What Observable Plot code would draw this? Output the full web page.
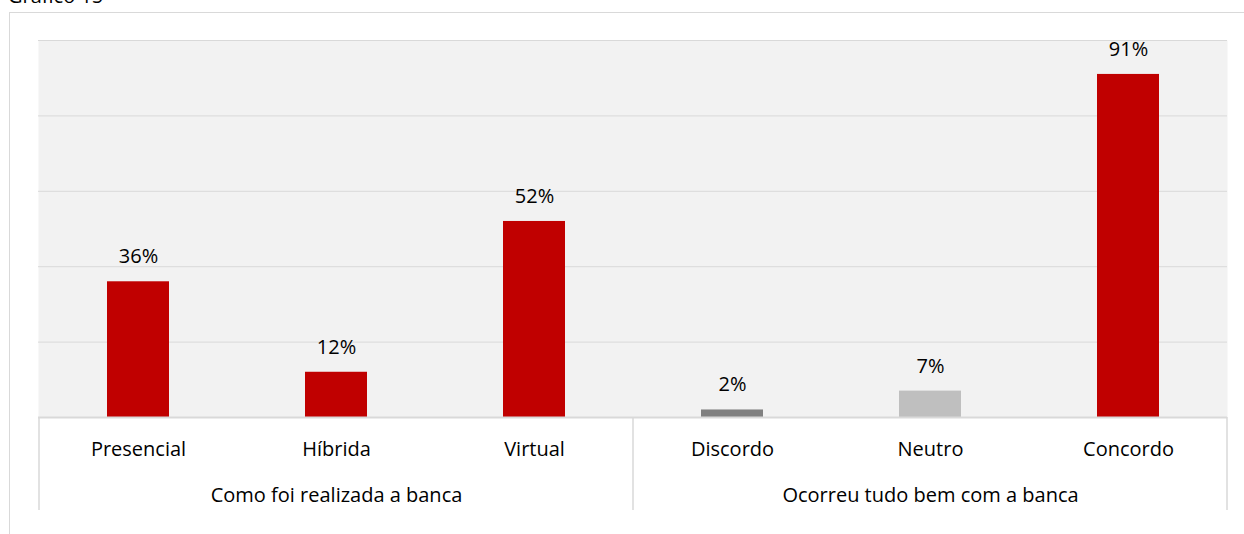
<!DOCTYPE html>
<html>
<head>
<meta charset="utf-8">
<script src="https://cdn.jsdelivr.net/npm/d3@7"></script>
<script src="https://cdn.jsdelivr.net/npm/@observablehq/plot@0.6"></script>
<style>
  html, body { margin: 0; padding: 0; background: #fff; }
  #wrap { position: relative; width: 1244px; height: 534px; overflow: hidden; font-family: "Open Sans", "Noto Sans", sans-serif; }
  #frame { position: absolute; left: 9px; top: 12px; width: 1300px; height: 600px; border: 1px solid #D9D9D9; box-sizing: border-box; }
  #title { position: absolute; left: 8px; top: -18px; font-size: 20px; color: #000; }
  #chart { position: absolute; left: 0; top: 0; }
</style>
</head>
<body>
<div id="wrap">
  <div id="frame"></div>
  <div id="title">Gráfico 15</div>
  <div id="chart"></div>
</div>
<script>
const categories = ["Presencial", "Híbrida", "Virtual", "Discordo", "Neutro", "Concordo"];
const values = [36, 12, 52, 2, 7, 91];
const groupNames = ["Como foi realizada a banca", "Ocorreu tudo bem com a banca"];
const groupMembers = [["Presencial", "Híbrida", "Virtual"], ["Discordo", "Neutro", "Concordo"]];
const barColors = ["#C00000", "#C00000", "#C00000", "#808080", "#BFBFBF", "#C00000"];
const yTicks = [0, 20, 40, 60, 80, 100];

const data = categories.map((c, i) => ({cat: c, value: values[i]}));
const groups = groupNames.map((g, i) => ({name: g, members: groupMembers[i], mid: groupMembers[i][Math.floor(groupMembers[i].length / 2)]}));

const separators = (index, scales, values, dims) => {
  const g = d3.create("svg:g");
  const x = scales.x;
  const half = x.step ? x.step() / 2 : (dims.width - dims.marginLeft - dims.marginRight) / categories.length / 2;
  const bw = x.bandwidth ? x.bandwidth() / 2 : 0;
  const xs = [];
  groups.forEach((gr, i) => {
    xs.push(x(gr.members[0]) + bw - half);
    if (i === groups.length - 1) xs.push(x(gr.members[gr.members.length - 1]) + bw + half);
  });
  const y0 = scales.y(0);
  xs.forEach(px => {
    g.append("line").attr("x1", px).attr("x2", px).attr("y1", y0).attr("y2", y0 + 93)
      .attr("stroke", "#D9D9D9").attr("stroke-width", 1.5);
  });
  return g.node();
};

const chart = Plot.plot({
  width: 1244,
  height: 534,
  marginLeft: 38,
  marginRight: 17,
  marginTop: 40,
  marginBottom: 117,
  style: {background: "transparent", fontFamily: "'Open Sans', 'Noto Sans', sans-serif", color: "#000"},
  x: {domain: categories, paddingInner: 0.687, paddingOuter: 0.3435, axis: null},
  y: {domain: [0, 100], axis: null},
  color: {domain: categories, range: barColors},
  marks: [
    Plot.frame({fill: "#F2F2F2", stroke: "none"}),
    Plot.ruleY(yTicks, {stroke: "#D9D9D9", strokeWidth: 1}),
    Plot.barY(data, {x: "cat", y: "value", fill: "cat"}),
    Plot.text(data, {x: "cat", y: "value", text: d => d.value + "%", dy: -25, fontSize: 20, fill: "#000"}),
    Plot.text(categories, {x: d => d, y: () => 0, text: d => d, dy: 32, fontSize: 20, fill: "#000"}),
    Plot.text(groups, {x: "mid", y: () => 0, text: "name", dy: 78, fontSize: 20, fill: "#000"}),
    Plot.ruleY([0], {stroke: "#D9D9D9", strokeWidth: 2}),
    separators
  ]
});
document.getElementById("chart").appendChild(chart);
</script>
</body>
</html>
